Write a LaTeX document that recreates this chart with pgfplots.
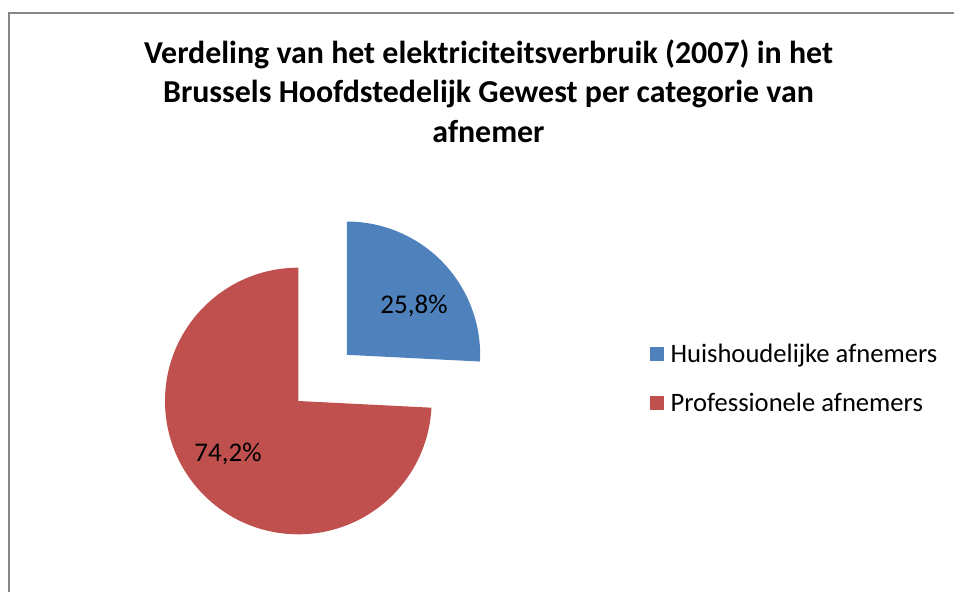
\documentclass[border=0pt]{standalone}
\usepackage{pgfplots}
\pgfplotsset{compat=1.18}
\usepackage{pgfplotstable}
\usepackage{fontspec}
\setmainfont{Carlito}

\definecolor{hblue}{RGB}{79,129,189}
\definecolor{pred}{RGB}{192,80,77}
\definecolor{bordergray}{RGB}{134,134,134}

\pgfplotsset{squarelegend/.style={legend image code/.code={\fill[##1] (0pt,-7pt) rectangle (14pt,7pt);}}}

\pgfplotstableread{
category value
Huishoudelijke 25.8
Professionele 74.2
}\piedata

\begin{document}
\begin{tikzpicture}
\pgfplotstablegetelem{0}{value}\of\piedata \let\valA\pgfplotsretval
\pgfplotstablegetelem{1}{value}\of\piedata \let\valB\pgfplotsretval
\pgfmathsetmacro{\angA}{3.6*\valA}
\pgfmathsetmacro{\angB}{3.6*\valB}
\pgfmathsetmacro{\startA}{90-\angA}
\pgfmathsetmacro{\midA}{90-\angA/2}
\begin{axis}[
  width=954pt, height=592pt, scale only axis,
  xmin=0, xmax=954, ymin=0, ymax=592,
  hide axis, clip=false,
  /pgf/number format/assume math mode=true,
  legend style={draw=none, fill=none, at={(axis cs:650,213.5)}, anchor=west,
    inner sep=0pt, outer sep=0pt, row sep=22.2pt, column sep=6.5pt,
    font=\fontsize{26.6}{30}\selectfont, cells={anchor=west},
    nodes={inner sep=0pt, text height=21.8pt, text depth=5pt}},
]
\coordinate (ll) at (axis cs:0,0);
\coordinate (ur) at (axis cs:954,592);
% frame
\draw[bordergray, line width=2pt] (axis cs:9.3,-20) -- (axis cs:9.3,578.7) -- (axis cs:990,578.7);
% pie
\fill[pred] (axis cs:298.3,191) -- ++(90:133.3pt) arc[start angle=90, delta angle=\angB, radius=133.3pt] -- cycle;
\fill[hblue] ([shift={(\midA:67pt)}]axis cs:298.3,191) -- ++(\startA:133.3pt) arc[start angle=\startA, end angle=90, radius=133.3pt] -- cycle;
% labels
\node[font=\fontsize{27}{30}\selectfont] at (axis cs:414,286) {\pgfmathprintnumber[fixed,precision=1,fixed zerofill,use comma,assume math mode=true]{\valA}\%};
\node[font=\fontsize{27}{30}\selectfont] at (axis cs:228,138) {\pgfmathprintnumber[fixed,precision=1,fixed zerofill,use comma,assume math mode=true]{\valB}\%};
% title
\node[anchor=base, font=\bfseries\fontsize{31.9}{39.4}\selectfont] at (axis cs:488.5,528.7) {Verdeling van het elektriciteitsverbruik (2007) in het};
\node[anchor=base, font=\bfseries\fontsize{31.9}{39.4}\selectfont] at (axis cs:488.5,489.3) {Brussels Hoofdstedelijk Gewest per categorie van};
\node[anchor=base, font=\bfseries\fontsize{31.9}{39.4}\selectfont] at (axis cs:488.5,449.9) {afnemer};
% legend
\addlegendimage{squarelegend, fill=hblue, draw=none}
\addlegendimage{squarelegend, fill=pred, draw=none}
\legend{Huishoudelijke afnemers, Professionele afnemers}
\end{axis}
\pgfresetboundingbox
\useasboundingbox (ll) rectangle (ur);
\end{tikzpicture}
\end{document}
